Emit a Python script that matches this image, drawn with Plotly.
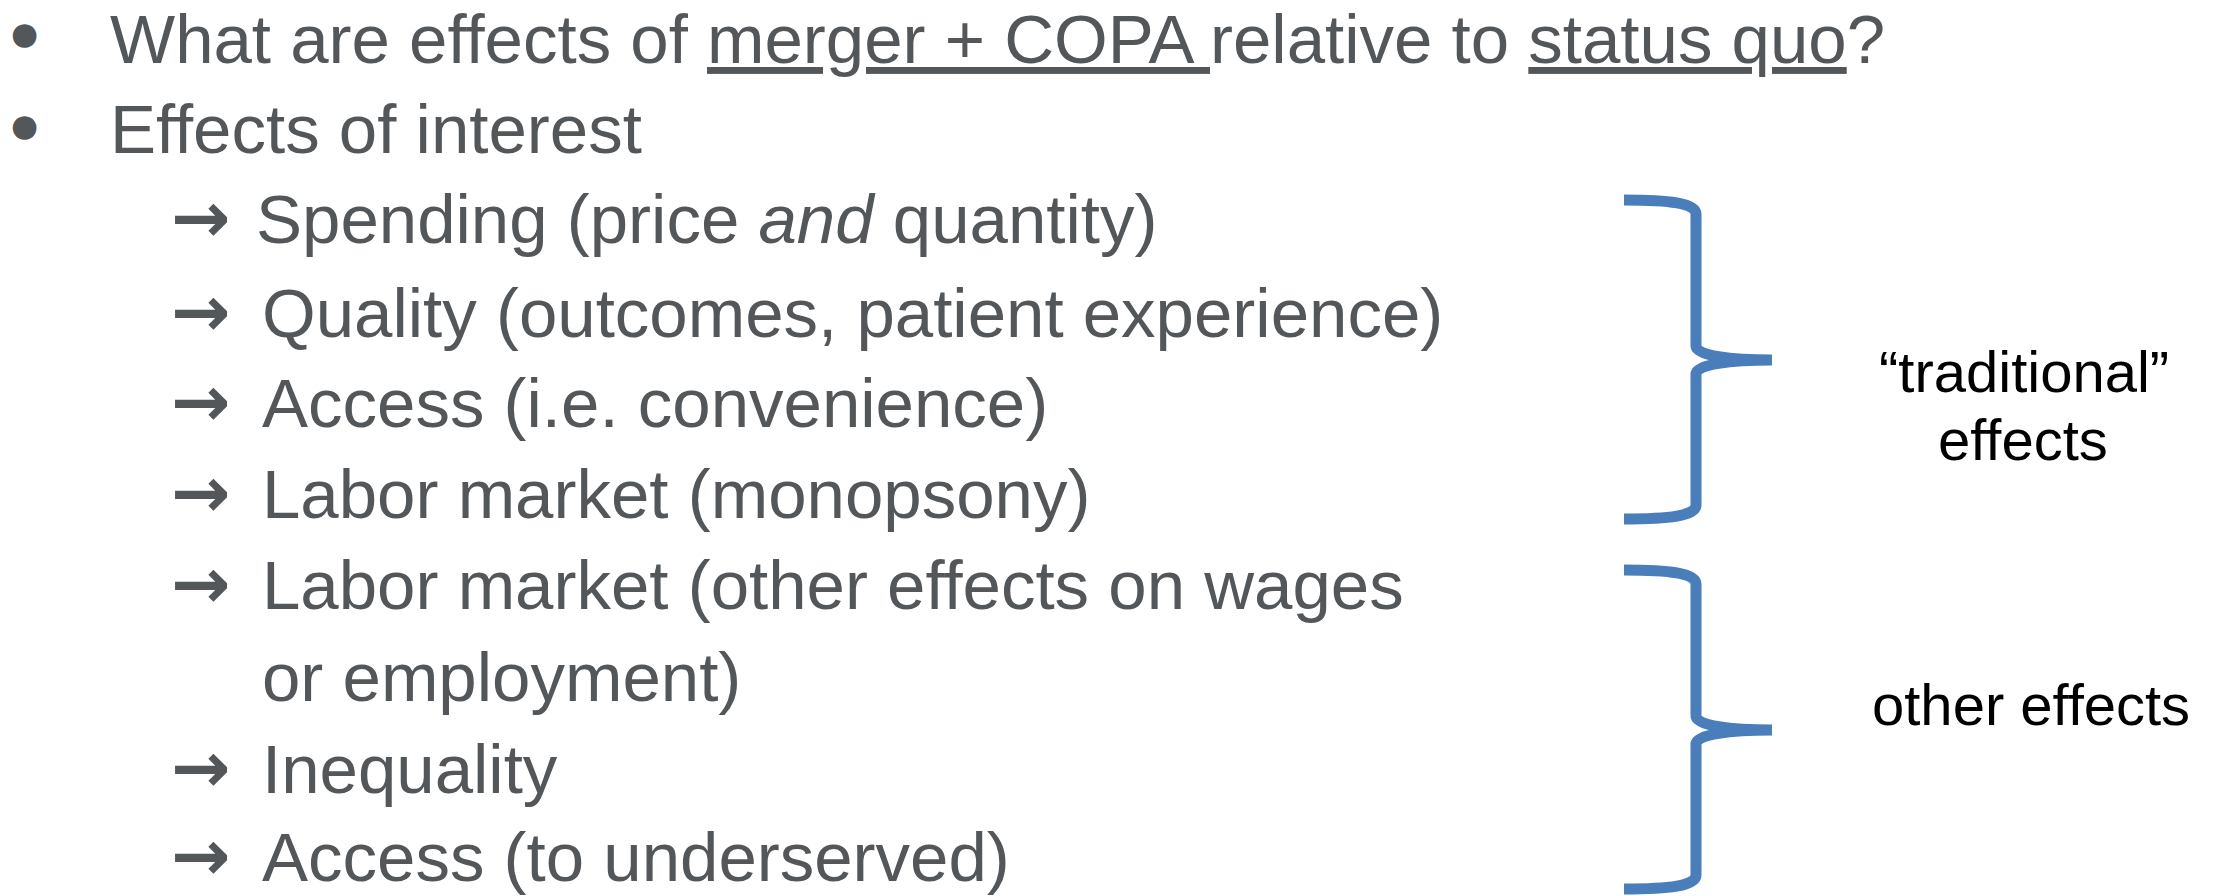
import plotly.graph_objects as go

# ---------------- content ----------------
bullet_texts = [
    "What are effects of <u>merger + COPA </u>relative to <u>status quo</u>?",
    "Effects of interest",
]
item_texts = [
    "Spending (price <i>and</i> quantity)",
    "Quality (outcomes, patient experience)",
    "Access (i.e. convenience)",
    "Labor market (monopsony)",
    "Labor market (other effects on wages",
    "or employment)",
    "Inequality",
    "Access (to underserved)",
]
item_has_arrow = [True, True, True, True, True, False, True, True]
group_labels = ["\u201ctraditional\u201d", "effects", "other effects"]

# ---------------- layout constants ----------------
W, H = 2213, 896
TEXT_COLOR = "#53575A"
BRACE_COLOR = "#4A7EBB"
FONT = "Liberation Sans, Arial, sans-serif"
FS = 69
FS_R = 58
FS_BULLET = 31
FS_ARROW = 71

bullet_baselines = [63, 153]
bullet_centers = [36, 128]
item_baselines = [243, 337, 427, 518, 609, 701, 793, 881]
item_x = [254, 260, 260, 260, 260, 260, 260, 260]
label_pos = [(2024, 392), (2023, 460), (2031, 725)]
braces = [(200, 360, 519), (570, 730, 889)]


def cy(baseline, fs, k=0.3465):
    return baseline - k * fs


annotations = []
for txt, bl, bc in zip(bullet_texts, bullet_baselines, bullet_centers):
    annotations.append(dict(x=24, y=bc - 3, text="\u25cf", xanchor="center", yanchor="middle",
                            font=dict(family="DejaVu Sans", size=FS_BULLET, color=TEXT_COLOR)))
    annotations.append(dict(x=108, y=cy(bl, FS), text=txt, xanchor="left", yanchor="middle",
                            font=dict(family=FONT, size=FS, color=TEXT_COLOR)))

for txt, bl, x, arr in zip(item_texts, item_baselines, item_x, item_has_arrow):
    if arr:
        annotations.append(dict(x=169, y=bl - 26, text="<b>\u2192</b>", xanchor="left", yanchor="middle",
                                font=dict(family="DejaVu Sans", size=FS_ARROW, color=TEXT_COLOR)))
    annotations.append(dict(x=x, y=cy(bl, FS), text=txt, xanchor="left", yanchor="middle",
                            font=dict(family=FONT, size=FS, color=TEXT_COLOR)))

for txt, (x, bl) in zip(group_labels, label_pos):
    annotations.append(dict(x=x, y=cy(bl, FS_R), text=txt, xanchor="center", yanchor="middle",
                            font=dict(family=FONT, size=FS_R, color="#000000")))

for a in annotations:
    a.update(xref="x", yref="y", showarrow=False)

shapes = []
XL, XV, XT = 1624, 1696, 1772
for top, mid, bot in braces:
    path = (f"M {XL},{top} C {XL+45},{top} {XV},{top+3} {XV},{top+14} "
            f"L {XV},{mid-14} C {XV},{mid-4} {XV+35},{mid} {XT},{mid} "
            f"M {XT},{mid} C {XV+35},{mid} {XV},{mid+4} {XV},{mid+14} "
            f"L {XV},{bot-14} C {XV},{bot-3} {XL+45},{bot} {XL},{bot}")
    shapes.append(dict(type="path", path=path, xref="x", yref="y",
                       line=dict(color=BRACE_COLOR, width=11)))

fig = go.Figure()
fig.update_layout(
    width=W, height=H,
    margin=dict(l=0, r=0, t=0, b=0),
    paper_bgcolor="white", plot_bgcolor="white",
    xaxis=dict(range=[0, W], visible=False, fixedrange=True),
    yaxis=dict(range=[H, 0], visible=False, fixedrange=True),
    annotations=annotations,
    shapes=shapes,
    showlegend=False,
)
fig.write_html("out.html",
               config={"displayModeBar": False},
               post_script="document.body.style.margin='0px';document.body.style.overflow='hidden';")
